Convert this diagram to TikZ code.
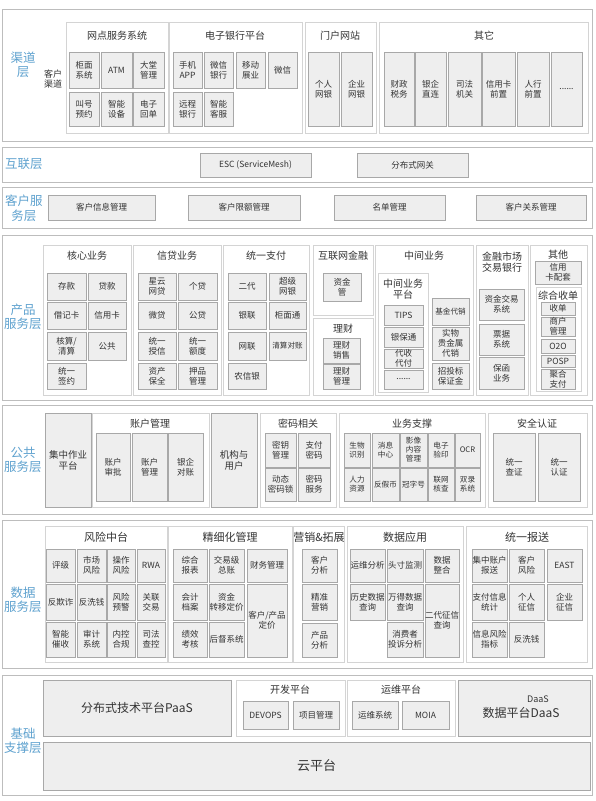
\documentclass[tikz,border=0pt]{standalone}
\usepackage{fontspec}
\setmainfont{Noto Sans CJK SC}
\definecolor{cblue}{HTML}{5FA2CF}
\definecolor{clyr}{HTML}{BDBDBD}
\definecolor{cgrp}{HTML}{D4D4D4}
\definecolor{ccell}{HTML}{A8A8A8}
\definecolor{cfill}{HTML}{EEEEEE}
\definecolor{ctxt}{HTML}{333333}
\newcommand\bx[7]{%
  \pgfmathsetmacro\bxw{(#5)-(#3)}%
  \pgfmathsetmacro\bxh{(#6)-(#4)}%
  \node[#1,minimum width=\bxw pt,minimum height=\bxh pt] (#2) at ({((#3)+(#5))/2},{((#4)+(#6))/2}) {#7};}
\begin{document}
\begin{tikzpicture}[x=1pt,y=-1pt,
  lyr/.style={draw=clyr,line width=1pt,fill=white,inner sep=0,outer sep=0},
  grp/.style={draw=cgrp,line width=0.9pt,fill=white,inner sep=0,outer sep=0},
  cbox/.style={draw=ccell,line width=1pt,fill=cfill,inner sep=0,outer sep=0,align=center,text=ctxt,font=\fontsize{8.5}{9.8}\selectfont},
  sbox/.style={cbox,font=\fontsize{7.6}{9}\selectfont},
  ttl/.style={inner sep=0,align=center,text=ctxt,font=\fontsize{10}{11}\selectfont},
  dttl/.style={inner sep=0,align=center,text=ctxt,font=\fontsize{11}{12}\selectfont},
  lbl/.style={inner sep=0,align=center,text=cblue,font=\fontsize{12.5}{14.5}\selectfont},
  plain/.style={inner sep=0,align=center,text=ctxt,font=\fontsize{9}{10.5}\selectfont}]
\fill[white] (0,0) rectangle (596,801);
\useasboundingbox (0,0) rectangle (596,801);
% ===== channel layer
\bx{lyr}{L1}{2}{9}{592}{141}{}
\node[lbl] (l1) at (23,65) {渠道\\层};
\node[plain] (kq) at (53,79) {客户\\渠道};
\bx{grp}{g11}{66}{22}{168}{133}{}
\node[ttl] (t11) at (117,36) {网点服务系统};
\bx{cbox}{c1a}{69}{52}{99}{88}{柜面\\系统}
\bx{cbox}{c1b}{101}{52}{132}{88}{ATM}
\bx{cbox}{c1c}{133}{52}{164}{88}{大堂\\管理}
\bx{cbox}{c1d}{69}{92}{99}{126}{叫号\\预约}
\bx{cbox}{c1e}{101}{92}{132}{126}{智能\\设备}
\bx{cbox}{c1f}{133}{92}{164}{126}{电子\\回单}
\bx{grp}{g12}{169}{22}{302}{133}{}
\node[ttl] (t12) at (235,36) {电子银行平台};
\bx{cbox}{c2a}{173}{52}{202}{88}{手机\\APP}
\bx{cbox}{c2b}{204}{52}{233}{88}{微信\\银行}
\bx{cbox}{c2c}{236}{52}{265}{88}{移动\\展业}
\bx{cbox}{c2d}{268}{52}{297}{88}{微信}
\bx{cbox}{c2e}{173}{92}{202}{126}{远程\\银行}
\bx{cbox}{c2f}{204}{92}{233}{126}{智能\\客服}
\bx{grp}{g13}{305}{22}{376}{133}{}
\node[ttl] (t13) at (340,36) {门户网站};
\bx{cbox}{c3a}{308}{52}{339}{126}{个人\\网银}
\bx{cbox}{c3b}{341}{52}{372}{126}{企业\\网银}
\bx{grp}{g14}{379}{22}{588}{133}{}
\node[ttl] (t14) at (484,36) {其它};
\bx{cbox}{c4a}{384}{52}{414}{126}{财政\\税务}
\bx{cbox}{c4b}{415}{52}{446}{126}{银企\\直连}
\bx{cbox}{c4c}{448}{52}{481}{126}{司法\\机关}
\bx{cbox}{c4d}{482}{52}{515}{126}{信用卡\\前置}
\bx{cbox}{c4e}{517}{52}{549}{126}{人行\\前置}
\bx{cbox}{c4f}{551}{52}{582}{126}{......}
% ===== interconnect layer
\bx{lyr}{L2}{2}{147}{592}{182}{}
\node[lbl] (l2) at (24,164) {互联层};
\bx{cbox}{i1}{200}{153}{311}{177}{ESC (ServiceMesh)}
\bx{cbox}{i2}{357}{153}{468}{177}{分布式网关}
% ===== customer service layer
\bx{lyr}{L3}{2}{187}{592}{228}{}
\node[lbl] (l3) at (24,208) {客户服\\务层};
\bx{cbox}{k1}{48}{195}{155}{220}{客户信息管理}
\bx{cbox}{k2}{188}{195}{300}{220}{客户限额管理}
\bx{cbox}{k3}{334}{195}{445}{220}{名单管理}
\bx{cbox}{k4}{476}{195}{586}{220}{客户关系管理}
% ===== product service layer
\bx{lyr}{L4}{2}{235}{592}{400}{}
\node[lbl] (l4) at (23,317) {产品\\服务层};
\bx{grp}{g41}{43}{245}{131}{395}{}
\node[ttl] (t41) at (87,256) {核心业务};
\bx{cbox}{p1a}{47}{273}{86}{300}{存款}
\bx{cbox}{p1b}{88}{273}{126}{300}{贷款}
\bx{cbox}{p1c}{47}{302}{86}{329}{借记卡}
\bx{cbox}{p1d}{88}{302}{126}{329}{信用卡}
\bx{cbox}{p1e}{47}{332}{86}{360}{核算/\\清算}
\bx{cbox}{p1f}{88}{332}{126}{360}{公共}
\bx{cbox}{p1g}{47}{363}{86}{389}{统一\\签约}
\bx{grp}{g42}{133}{245}{221}{395}{}
\node[ttl] (t42) at (177,256) {信贷业务};
\bx{cbox}{p2a}{138}{273}{176}{300}{星云\\网贷}
\bx{cbox}{p2b}{178}{273}{217}{300}{个贷}
\bx{cbox}{p2c}{138}{302}{176}{329}{微贷}
\bx{cbox}{p2d}{178}{302}{217}{329}{公贷}
\bx{cbox}{p2e}{138}{332}{176}{360}{统一\\授信}
\bx{cbox}{p2f}{178}{332}{217}{360}{统一\\额度}
\bx{cbox}{p2g}{138}{363}{176}{389}{资产\\保全}
\bx{cbox}{p2h}{178}{363}{217}{389}{押品\\管理}
\bx{grp}{g43}{223}{245}{309}{395}{}
\node[ttl] (t43) at (266,256) {统一支付};
\bx{cbox}{p3a}{228}{273}{266}{300}{二代}
\bx{cbox}{p3b}{269}{273}{306}{300}{超级\\网银}
\bx{cbox}{p3c}{228}{302}{266}{329}{银联}
\bx{cbox}{p3d}{269}{302}{306}{329}{柜面通}
\bx{cbox}{p3e}{228}{332}{266}{360}{网联}
\bx{sbox}{p3f}{269}{332}{306}{360}{清算对账}
\bx{cbox}{p3g}{228}{363}{266}{389}{农信银}
\bx{grp}{g44}{313}{245}{373}{315}{}
\node[ttl] (t44) at (343,256) {互联网金融};
\bx{cbox}{p4a}{323}{273}{361}{301}{资金\\管}
\bx{grp}{g45}{313}{318}{373}{395}{}
\node[ttl] (t45) at (343,329) {理财};
\bx{cbox}{p5a}{323}{338}{360}{363}{理财\\销售}
\bx{cbox}{p5b}{323}{364}{360}{389}{理财\\管理}
\bx{grp}{g46}{375}{245}{473}{395}{}
\node[ttl] (t46) at (424,256) {中间业务};
\bx{grp}{g47}{378}{273}{428}{392}{}
\node[ttl] (t47) at (403,289) {中间业务\\平台};
\bx{cbox}{p6a}{384}{305}{423}{325}{TIPS}
\bx{cbox}{p6b}{384}{327}{423}{347}{银保通}
\bx{cbox}{p6c}{384}{349}{423}{368}{代收\\代付}
\bx{cbox}{p6d}{384}{370}{423}{389}{......}
\bx{sbox}{p6e}{432}{298}{469}{325}{基金代销}
\bx{cbox}{p6f}{432}{327}{469}{360}{实物\\贵金属\\代销}
\bx{cbox}{p6g}{432}{363}{469}{389}{招投标\\保证金}
\bx{grp}{g48}{476}{245}{528}{395}{}
\node[ttl] (t48) at (502,262) {金融市场\\交易银行};
\bx{cbox}{p7a}{479}{289}{524}{320}{资金交易\\系统}
\bx{cbox}{p7b}{479}{324}{524}{355}{票据\\系统}
\bx{cbox}{p7c}{479}{357}{524}{389}{保函\\业务}
\bx{grp}{g49}{530}{245}{587}{395}{}
\node[ttl] (t49) at (558,255) {其他};
\bx{cbox}{p8a}{535}{261}{581}{284}{信用\\卡配套}
\bx{grp}{g4a}{536}{287}{581}{391}{}
\node[ttl] (t4a) at (558,296) {综合收单};
\bx{cbox}{p8b}{541}{302}{575}{315}{收单}
\bx{cbox}{p8c}{541}{317}{575}{336}{商户\\管理}
\bx{cbox}{p8d}{541}{339}{575}{353}{O2O}
\bx{cbox}{p8e}{541}{355}{575}{367}{POSP}
\bx{cbox}{p8f}{541}{369}{575}{389}{聚合\\支付}
% ===== public service layer
\bx{lyr}{L5}{2}{405}{592}{514}{}
\node[lbl] (l5) at (23,460) {公共\\服务层};
\bx{cbox,font=\fontsize{9.5}{11}\selectfont}{q1}{45}{413}{91}{507}{集中作业\\平台}
\bx{grp}{g52}{92}{413}{209}{507}{}
\node[ttl] (t52) at (150,424) {账户管理};
\bx{cbox}{q2a}{96}{433}{130}{501}{账户\\审批}
\bx{cbox}{q2b}{132}{433}{167}{501}{账户\\管理}
\bx{cbox}{q2c}{168}{433}{203}{501}{银企\\对账}
\bx{cbox,font=\fontsize{9.5}{11}\selectfont}{q3}{211}{413}{257}{507}{机构与\\用户}
\bx{grp}{g54}{260}{413}{336}{507}{}
\node[ttl] (t54) at (298,424) {密码相关};
\bx{cbox}{q4a}{265}{433}{296}{467}{密钥\\管理}
\bx{cbox}{q4b}{298}{433}{330}{467}{支付\\密码}
\bx{cbox}{q4c}{265}{468}{296}{501}{动态\\密码锁}
\bx{cbox}{q4d}{298}{468}{330}{501}{密码\\服务}
\bx{grp}{g55}{339}{413}{485}{507}{}
\node[ttl] (t55) at (412,424) {业务支撑};
\bx{sbox}{q5a}{344}{433}{370}{467}{生物\\识别}
\bx{sbox}{q5b}{372}{433}{399}{467}{消息\\中心}
\bx{sbox}{q5c}{400}{433}{427}{467}{影像\\内容\\管理}
\bx{sbox}{q5d}{428}{433}{454}{467}{电子\\验印}
\bx{sbox}{q5e}{455}{433}{480}{467}{OCR}
\bx{sbox}{q5f}{344}{468}{370}{501}{人力\\资源}
\bx{sbox}{q5g}{372}{468}{399}{501}{反假币}
\bx{sbox}{q5h}{400}{468}{427}{501}{冠字号}
\bx{sbox}{q5i}{428}{468}{454}{501}{联网\\核查}
\bx{sbox}{q5j}{455}{468}{480}{501}{双录\\系统}
\bx{grp}{g56}{488}{413}{587}{507}{}
\node[ttl] (t56) at (537,424) {安全认证};
\bx{cbox}{q6a}{493}{433}{535}{501}{统一\\查证}
\bx{cbox}{q6b}{538}{433}{580}{501}{统一\\认证}
% ===== data service layer
\bx{lyr}{L6}{2}{520}{592}{668}{}
\node[lbl] (l6) at (23,600) {数据\\服务层};
\bx{grp}{g61}{45}{526}{167}{662}{}
\node[dttl] (t61) at (106,537) {风险中台};
\bx{cbox}{d1a}{46}{549}{75}{582}{评级}
\bx{cbox}{d1b}{77}{549}{106}{582}{市场\\风险}
\bx{cbox}{d1c}{107}{549}{135}{582}{操作\\风险}
\bx{cbox}{d1d}{137}{549}{165}{582}{RWA}
\bx{cbox}{d1e}{46}{584}{75}{620}{反欺诈}
\bx{cbox}{d1f}{77}{584}{106}{620}{反洗钱}
\bx{cbox}{d1g}{107}{584}{135}{620}{风险\\预警}
\bx{cbox}{d1h}{137}{584}{165}{620}{关联\\交易}
\bx{cbox}{d1i}{46}{622}{75}{657}{智能\\催收}
\bx{cbox}{d1j}{77}{622}{106}{657}{审计\\系统}
\bx{cbox}{d1k}{107}{622}{135}{657}{内控\\合规}
\bx{cbox}{d1l}{137}{622}{165}{657}{司法\\查控}
\bx{grp}{g62}{168}{526}{292}{662}{}
\node[dttl] (t62) at (230,537) {精细化管理};
\bx{cbox}{d2a}{173}{549}{207}{582}{综合\\报表}
\bx{cbox}{d2b}{209}{549}{244}{582}{交易级\\总账}
\bx{cbox}{d2c}{247}{549}{287}{582}{财务管理}
\bx{cbox}{d2d}{173}{584}{207}{620}{会计\\档案}
\bx{cbox}{d2e}{209}{584}{244}{620}{资金\\转移定价}
\bx{cbox}{d2f}{247}{584}{287}{657}{客户/产品\\定价}
\bx{cbox}{d2g}{173}{622}{207}{657}{绩效\\考核}
\bx{cbox}{d2h}{209}{622}{244}{657}{后督系统}
\bx{grp}{g63}{293}{526}{344}{662}{}
\node[dttl] (t63) at (319,537) {营销\&拓展};
\bx{cbox}{d3a}{302}{549}{337}{582}{客户\\分析}
\bx{cbox}{d3b}{302}{584}{337}{620}{精准\\营销}
\bx{cbox}{d3c}{302}{623}{337}{657}{产品\\分析}
\bx{grp}{g64}{347}{526}{463}{662}{}
\node[dttl] (t64) at (405,537) {数据应用};
\bx{cbox}{d4a}{350}{549}{385}{582}{运维分析}
\bx{cbox}{d4b}{387}{549}{423}{582}{头寸监测}
\bx{cbox}{d4c}{425}{549}{459}{582}{数据\\整合}
\bx{cbox}{d4d}{350}{584}{385}{620}{历史数据\\查询}
\bx{cbox}{d4e}{387}{584}{423}{620}{万得数据\\查询}
\bx{cbox}{d4f}{425}{584}{459}{657}{二代征信\\查询}
\bx{cbox}{d4g}{387}{622}{423}{657}{消费者\\投诉分析}
\bx{grp}{g65}{466}{526}{587}{662}{}
\node[dttl] (t65) at (527,537) {统一报送};
\bx{cbox}{d5a}{472}{549}{507}{582}{集中账户\\报送}
\bx{cbox}{d5b}{509}{549}{544}{582}{客户\\风险}
\bx{cbox}{d5c}{547}{549}{582}{582}{EAST}
\bx{cbox}{d5d}{472}{584}{507}{620}{支付信息\\统计}
\bx{cbox}{d5e}{509}{584}{544}{620}{个人\\征信}
\bx{cbox}{d5f}{547}{584}{582}{620}{企业\\征信}
\bx{cbox}{d5g}{472}{622}{507}{657}{信息风险\\指标}
\bx{cbox}{d5h}{509}{622}{544}{657}{反洗钱}
% ===== base layer
\bx{lyr}{L7}{2}{675}{592}{795}{}
\node[lbl] (l7) at (23,741) {基础\\支撑层};
\bx{cbox,font=\fontsize{12}{14}\selectfont}{b1}{43}{680}{231}{736}{分布式技术平台PaaS}
\bx{grp}{g72}{236}{680}{345}{736}{}
\node[ttl] (t72) at (290,690) {开发平台};
\bx{cbox}{b2a}{243}{701}{288}{729}{DEVOPS}
\bx{cbox}{b2b}{293}{701}{339}{729}{项目管理}
\bx{grp}{g73}{347}{680}{455}{736}{}
\node[ttl] (t73) at (401,690) {运维平台};
\bx{cbox}{b3a}{352}{701}{398}{729}{运维系统}
\bx{cbox}{b3b}{402}{701}{449}{729}{MOIA}
\bx{cbox}{b4}{458}{680}{590}{736}{}
\node[plain] (b4a) at (538,699) {DaaS};
\node[inner sep=0,text=ctxt,font=\fontsize{12}{14}\selectfont] (b4b) at (521,713) {数据平台DaaS};
\bx{cbox,font=\fontsize{13}{15}\selectfont}{b5}{43}{742}{590}{790}{云平台}
\end{tikzpicture}
\end{document}
